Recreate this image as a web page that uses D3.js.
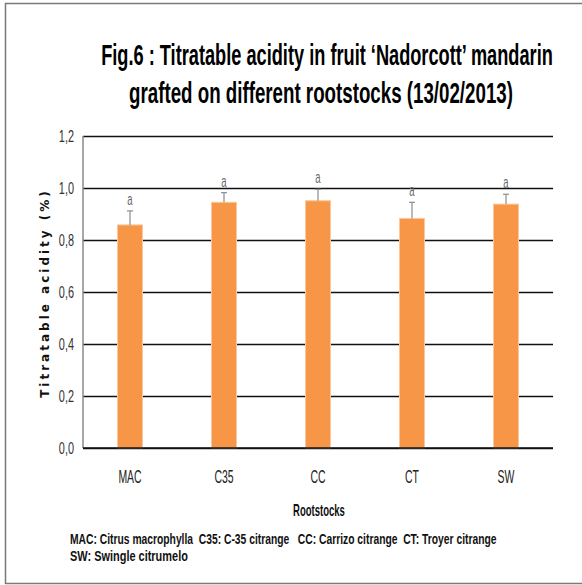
<!DOCTYPE html>
<html>
<head>
<meta charset="utf-8">
<script src="https://cdn.jsdelivr.net/npm/d3@7"></script>
<style>
  html, body { margin: 0; padding: 0; background: #fff; }
  svg { display: block; }
  text.cond { font-family: "Liberation Sans", Arial, sans-serif; }
</style>
</head>
<body>
<svg id="chart" width="582" height="585"></svg>
<script>
// Rootstock categories and mean titratable acidity (%)
const rootstocks = ["MAC", "C35", "CC", "CT", "SW"];
const acidity = [0.858, 0.945, 0.951, 0.883, 0.938];
const errors = [0.054, 0.037, 0.044, 0.062, 0.038];
const groups = ["a", "a", "a", "a", "a"];
const yTicks = [0, 0.2, 0.4, 0.6, 0.8, 1.0, 1.2];
const titleLines = [
  "Fig.6 : Titratable acidity in fruit \u2018Nadorcott\u2019 mandarin",
  "grafted on different rootstocks  (13/02/2013)"
];
const noteLines = [
  "MAC: Citrus macrophylla  C35: C-35 citrange   CC: Carrizo citrange  CT: Troyer citrange",
  "SW: Swingle citrumelo"
];

const svg = d3.select("#chart");
const W = 582, H = 585;
const plot = { left: 83, right: 553, top: 136, bottom: 448 };

// condensed lettering: keep glyph height, squeeze the run horizontally
function condense(sel, k) {
  sel.each(function () {
    const n = this.getComputedTextLength();
    d3.select(this)
      .attr("textLength", n * k)
      .attr("lengthAdjust", "spacingAndGlyphs");
  });
}
// condensed block text: a horizontal scale so the run is a given width
function scaleToWidth(sel, anchorX, baseY, widthOf) {
  sel.each(function (d, i) {
    const n = this.getComputedTextLength();
    const k = widthOf(d, i) / n;
    d3.select(this)
      .attr("x", 0).attr("y", 0)
      .attr("transform", `translate(${anchorX(d, i)},${baseY(d, i)}) scale(${k},1)`);
  });
}

// frame around the figure
svg.append("path")
  .attr("d", `M5.5,${H - 1} V3.5 H${W}`)
  .attr("fill", "none").attr("stroke", "#7a7a7a").attr("stroke-width", 1.5);
svg.append("line")
  .attr("x1", 5).attr("x2", W).attr("y1", 583.5).attr("y2", 583.5)
  .attr("stroke", "#7a7a7a").attr("stroke-width", 1.5);

const x = d3.scaleBand()
  .domain(rootstocks)
  .range([plot.left, plot.right])
  .paddingInner(0.734)
  .paddingOuter(0.367);

const y = d3.scaleLinear()
  .domain([0, 1.2])
  .range([plot.bottom, plot.top]);

const fmt = v => d3.format(".1f")(v).replace(".", ",");

// horizontal gridlines and value labels
const yAxis = d3.axisLeft(y)
  .tickValues(yTicks)
  .tickSize(-(plot.right - plot.left))
  .tickPadding(9)
  .tickFormat(fmt);

const gy = svg.append("g")
  .attr("transform", `translate(${plot.left},0)`)
  .call(yAxis);
gy.select(".domain").remove();
gy.selectAll(".tick line").attr("stroke", "#111").attr("stroke-width", 1.6);
gy.selectAll(".tick text")
  .attr("class", "cond")
  .attr("font-size", 16)
  .attr("fill", "#333")
  .call(condense, 0.68);

// left axis line
svg.append("line")
  .attr("x1", plot.left).attr("x2", plot.left)
  .attr("y1", plot.top).attr("y2", plot.bottom)
  .attr("stroke", "#8a8a8a").attr("stroke-width", 1.5);

// bars
svg.append("g").selectAll("rect")
  .data(rootstocks)
  .join("rect")
  .attr("x", d => x(d))
  .attr("width", x.bandwidth())
  .attr("y", (d, i) => y(acidity[i]))
  .attr("height", (d, i) => y(0) - y(acidity[i]))
  .attr("fill", "#F79646")
  .attr("stroke", "#fbc79c")
  .attr("stroke-width", 1);

// baseline drawn over the bars
svg.append("line")
  .attr("x1", plot.left).attr("x2", plot.right)
  .attr("y1", y(0)).attr("y2", y(0))
  .attr("stroke", "#111").attr("stroke-width", 1.6);

// error bars (upper whisker)
const eb = svg.append("g").attr("stroke", "#8c8c8c").attr("stroke-width", 1.2);
rootstocks.forEach((d, i) => {
  const cx = x(d) + x.bandwidth() / 2;
  const top = y(acidity[i] + errors[i]);
  eb.append("line").attr("x1", cx).attr("x2", cx)
    .attr("y1", y(acidity[i])).attr("y2", top);
  eb.append("line").attr("x1", cx - 3).attr("x2", cx + 3)
    .attr("y1", top).attr("y2", top);
});

// significance letters
svg.append("g").selectAll("text")
  .data(rootstocks)
  .join("text")
  .attr("class", "cond")
  .attr("x", d => x(d) + x.bandwidth() / 2)
  .attr("y", (d, i) => y(acidity[i] + errors[i]) - 6)
  .attr("text-anchor", "middle")
  .attr("font-size", 17)
  .attr("fill", "#666")
  .text((d, i) => groups[i])
  .call(condense, 0.56);

// category labels
const xAxis = d3.axisBottom(x).tickSize(0).tickPadding(22);
const gx = svg.append("g")
  .attr("transform", `translate(0,${plot.bottom})`)
  .call(xAxis);
gx.select(".domain").remove();
gx.selectAll(".tick text")
  .attr("class", "cond")
  .attr("font-size", 18)
  .attr("fill", "#222")
  .call(condense, 0.58);

// axis titles
svg.append("text")
  .attr("class", "cond")
  .attr("x", 319).attr("y", 516)
  .attr("text-anchor", "middle")
  .attr("font-size", 17)
  .attr("font-weight", "bold")
  .attr("fill", "#111")
  .text("Rootstocks")
  .call(condense, 0.56);

svg.append("text")
  .attr("transform", "translate(49,293) rotate(-90)")
  .attr("text-anchor", "middle")
  .attr("font-family", "DejaVu Sans, sans-serif")
  .attr("font-size", 12)
  .attr("font-weight", "bold")
  .attr("letter-spacing", 3)
  .attr("fill", "#111")
  .text("Titratable acidity (%)");

// chart title
svg.append("g").selectAll("text")
  .data(titleLines)
  .join("text")
  .attr("class", "cond")
  .attr("text-anchor", "middle")
  .attr("font-size", 30)
  .attr("font-weight", "bold")
  .attr("fill", "#000")
  .text(d => d)
  .call(scaleToWidth,
        (d, i) => i === 0 ? 327 : 321,
        (d, i) => 65 + i * 38,
        (d, i) => i === 0 ? 452 : 384);

// rootstock key
svg.append("g").selectAll("text")
  .data(noteLines)
  .join("text")
  .attr("class", "cond")
  .attr("font-size", 14)
  .attr("font-weight", "bold")
  .attr("fill", "#111")
  .style("white-space", "pre")
  .text(d => d)
  .call(scaleToWidth,
        () => 70,
        (d, i) => 544 + i * 17,
        (d, i) => i === 0 ? 427 : 118);
</script>
</body>
</html>
